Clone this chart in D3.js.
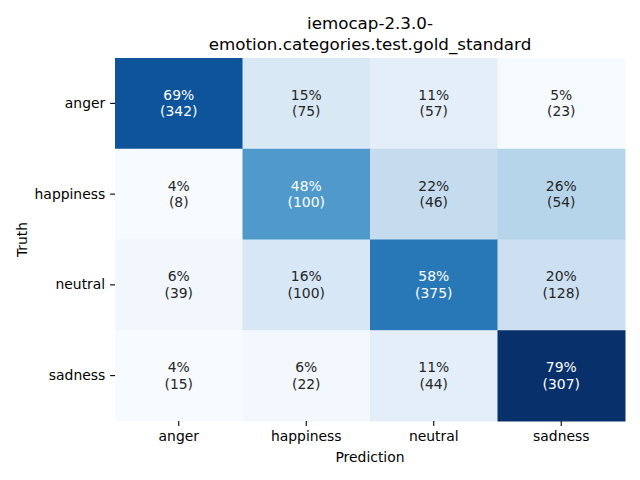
<!DOCTYPE html>
<html>
<head>
<meta charset="utf-8">
<script src="https://cdn.jsdelivr.net/npm/d3@7/dist/d3.min.js"></script>
<style>
html,body{margin:0;padding:0;background:#fff;}
svg{display:block;font-family:"DejaVu Sans",sans-serif;}
</style>
</head>
<body>
<svg id="chart" width="640" height="480"></svg>
<script>
const categories = ["anger", "happiness", "neutral", "sadness"];
const titleLines = ["iemocap-2.3.0-", "emotion.categories.test.gold_standard"];
// counts[truth][prediction]
const countsAnger = [342, 75, 57, 23];
const countsHappiness = [8, 100, 46, 54];
const countsNeutral = [39, 100, 375, 128];
const countsSadness = [15, 22, 44, 307];
// row percentages
const pctAnger = [68.8, 15.1, 11.4, 4.6];
const pctHappiness = [3.8, 48.1, 22.1, 26.0];
const pctNeutral = [6.1, 15.6, 58.4, 19.9];
const pctSadness = [3.9, 5.7, 11.3, 79.1];

const counts = [countsAnger, countsHappiness, countsNeutral, countsSadness];
const pcts = [pctAnger, pctHappiness, pctNeutral, pctSadness];

const cells = [];
categories.forEach((t, i) => categories.forEach((p, j) => {
  cells.push({truth: t, pred: p, count: counts[i][j], pct: pcts[i][j]});
}));

const svg = d3.select("#chart");
const L = 115, R = 625, T = 58, B = 421;

const x = d3.scaleBand().domain(categories).range([L, R]);
const y = d3.scaleBand().domain(categories).range([T, B]);
const allPct = cells.map(d => d.pct);
const color = d3.scaleSequential(d3.interpolateBlues).domain([d3.min(allPct), d3.max(allPct)]);

svg.append("g").selectAll("rect").data(cells).join("rect")
  .attr("x", d => x(d.pred)).attr("y", d => y(d.truth))
  .attr("width", x.bandwidth() + 0.5).attr("height", y.bandwidth() + 0.5)
  .attr("fill", d => color(d.pct));

function textColor(c) {
  const rgb = d3.rgb(c);
  const lin = v => { v /= 255; return v <= 0.03928 ? v / 12.92 : Math.pow((v + 0.055) / 1.055, 2.4); };
  const lum = 0.2126 * lin(rgb.r) + 0.7152 * lin(rgb.g) + 0.0722 * lin(rgb.b);
  return lum > 0.408 ? "#262626" : "#ffffff";
}

const ann = svg.append("g").selectAll("text").data(cells).join("text")
  .attr("text-anchor", "middle")
  .attr("font-size", "13.9px")
  .attr("fill", d => textColor(color(d.pct)));
ann.append("tspan")
  .attr("x", d => x(d.pred) + x.bandwidth() / 2)
  .attr("y", d => y(d.truth) + y.bandwidth() / 2 - 3.5)
  .text(d => Math.round(d.pct) + "%");
ann.append("tspan")
  .attr("x", d => x(d.pred) + x.bandwidth() / 2)
  .attr("y", d => y(d.truth) + y.bandwidth() / 2 + 13)
  .text(d => "(" + d.count + ")");

const xAxis = svg.append("g").attr("transform", `translate(0,${B})`)
  .call(d3.axisBottom(x).tickSize(4.9).tickPadding(4.9));
const yAxis = svg.append("g").attr("transform", `translate(${L},0)`)
  .call(d3.axisLeft(y).tickSize(4.9).tickPadding(4.9));
[xAxis, yAxis].forEach(a => {
  a.select(".domain").remove();
  a.selectAll(".tick line").attr("stroke", "#000").attr("stroke-width", 1.1);
  a.selectAll(".tick text").attr("font-size", "13.9px").attr("fill", "#000")
    .attr("font-family", "DejaVu Sans, sans-serif");
});

svg.append("text").attr("x", (L + R) / 2).attr("y", 462)
  .attr("text-anchor", "middle").attr("font-size", "13.9px").attr("fill", "#000")
  .text("Prediction");
svg.append("text").attr("transform", `translate(27,${(T + B) / 2}) rotate(-90)`)
  .attr("text-anchor", "middle").attr("font-size", "13.9px").attr("fill", "#000")
  .text("Truth");

svg.append("g").selectAll("text").data(titleLines).join("text")
  .attr("x", (L + R) / 2).attr("y", (d, i) => 29 + i * 20.5)
  .attr("text-anchor", "middle").attr("font-size", "16.7px").attr("fill", "#000")
  .text(d => d);
</script>
</body>
</html>
